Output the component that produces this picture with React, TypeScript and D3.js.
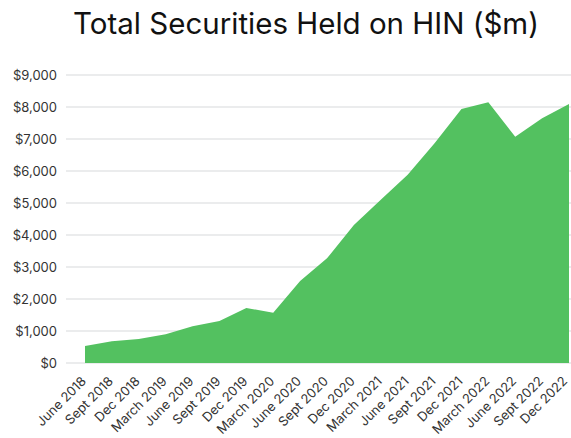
import React from 'react';
import * as d3 from 'd3';

const quarters = [
  'June 2018', 'Sept 2018', 'Dec 2018', 'March 2019', 'June 2019', 'Sept 2019', 'Dec 2019',
  'March 2020', 'June 2020', 'Sept 2020', 'Dec 2020', 'March 2021', 'June 2021', 'Sept 2021',
  'Dec 2021', 'March 2022', 'June 2022', 'Sept 2022', 'Dec 2022',
];
const held = [
  530, 680, 750, 900, 1150, 1310, 1720, 1570, 2560, 3270, 4310, 5100, 5880, 6870,
  7940, 8150, 7070, 7650, 8090,
];
const yTicks = [0, 1000, 2000, 3000, 4000, 5000, 6000, 7000, 8000, 9000];

export default function App() {
  const width = 571;
  const height = 438;
  const font = 'Inter, "Noto Sans", sans-serif';

  const x = d3.scalePoint<string>().domain(quarters).range([85, 569]);
  const y = d3.scaleLinear().domain([0, 9000]).range([363, 75]);

  const area = d3.area<number>()
    .x((_, i) => x(quarters[i]) as number)
    .y0(y(0))
    .y1(d => y(d));

  const fmt = (v: number) => '$' + d3.format(',')(v);

  return (
    <svg width={width} height={height} style={{ position: 'absolute', left: 0, top: 0 }}>
      <text x={306} y={34} textAnchor="middle" fontFamily={font} fontSize={29.5} fill="#111">
        Total Securities Held on HIN ($m)
      </text>
      {yTicks.map(t => (
        <g key={t}>
          <line x1={66} x2={571} y1={y(t)} y2={y(t)} stroke="#e4e6e7" strokeWidth={1.5} />
          <text x={57} y={y(t)} dy="0.35em" textAnchor="end" fontFamily={font} fontSize={13} fill="#333">
            {fmt(t)}
          </text>
        </g>
      ))}
      <path d={area(held) || ''} fill="#53c160" />
      {quarters.map(q => (
        <text
          key={q}
          transform={`translate(${Math.min((x(q) as number) + 2, 568)},${382}) rotate(-45)`}
          textAnchor="end"
          fontFamily={font}
          fontSize={13}
          fill="#333"
        >
          {q}
        </text>
      ))}
    </svg>
  );
}
